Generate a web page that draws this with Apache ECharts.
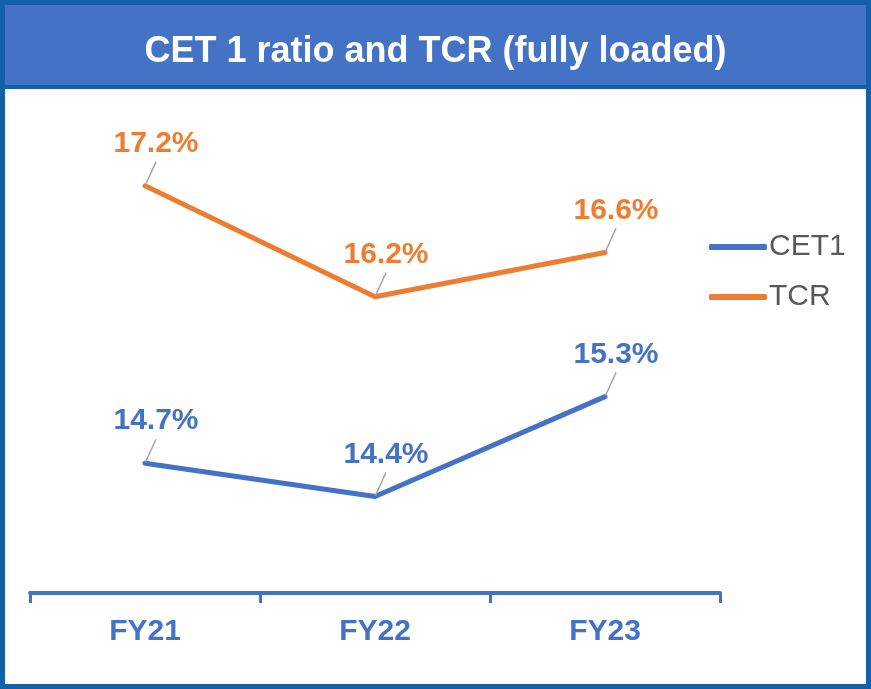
<!DOCTYPE html>
<html>
<head>
<meta charset="utf-8">
<script src="https://cdn.jsdelivr.net/npm/echarts@6/dist/echarts.min.js"></script>
<style>html,body{margin:0;padding:0;background:#fff;}#c{width:871px;height:689px;}</style>
</head>
<body>
<div id="c"></div>
<script>
const categories = ['FY21', 'FY22', 'FY23'];
const cet1 = [14.7, 14.4, 15.3];
const tcr = [17.2, 16.2, 16.6];
const seriesNames = ['CET1', 'TCR'];
const titleText = 'CET 1 ratio and TCR (fully loaded)';

const BLUE = '#4472C4', ORANGE = '#ED7D31', DARK = '#1460A8';
const FONT = 'Arial, "Liberation Sans", sans-serif';

function mkSeries(name, data, color) {
  return {
    name: name, type: 'line', data: data,
    symbol: 'circle', symbolSize: 2, showSymbol: true,
    itemStyle: { color: color },
    lineStyle: { color: color, width: 5, cap: 'round', join: 'round' },
    label: {
      show: true, position: 'top', distance: 5,
      formatter: p => p.value.toFixed(1) + '%',
      color: color, fontSize: 30, fontWeight: 'bold', fontFamily: FONT,
      lineHeight: 30, padding: [0, 0, 3, 0]
    },
    labelLayout: { dx: 11, dy: -18 },
    labelLine: { show: true, lineStyle: { color: '#A5A5A5', width: 1.5 } },
    emphasis: { disabled: true },
    animation: false
  };
}

const chart = echarts.init(document.getElementById('c'));
chart.setOption({
  animation: false,
  title: {
    text: titleText, left: 'center', top: 28,
    textStyle: { color: '#fff', fontSize: 36, fontWeight: 'bold', fontFamily: FONT, lineHeight: 38 }
  },
  graphic: [
    { type: 'rect', z: -10, shape: { x: 0, y: 0, width: 871, height: 88 }, style: { fill: BLUE } },
    { type: 'rect', z: 100, shape: { x: 0, y: 85, width: 871, height: 4 }, style: { fill: DARK } },
    { type: 'rect', z: 100, shape: { x: 0, y: 0, width: 871, height: 689 }, style: { fill: 'none', stroke: DARK, lineWidth: 10 } }
  ],
  legend: {
    orient: 'vertical', left: 704, top: 227, itemGap: 20,
    itemWidth: 58, itemHeight: 6, icon: 'roundRect',
    data: seriesNames,
    textStyle: { color: '#595959', fontSize: 30, fontFamily: FONT, lineHeight: 30, padding: [0, 0, 0, -3] }
  },
  grid: { left: 30, right: 151, top: 100, bottom: 96 },
  xAxis: {
    type: 'category', data: categories, boundaryGap: true,
    axisLine: { lineStyle: { color: BLUE, width: 4 } },
    axisTick: { show: true, length: 10, lineStyle: { color: BLUE, width: 3 } },
    axisLabel: { color: BLUE, fontSize: 30, fontWeight: 'bold', fontFamily: FONT, margin: 24 },
    splitLine: { show: false }
  },
  yAxis: {
    type: 'value', min: 13.53, max: 17.974, show: false, splitLine: { show: false }
  },
  series: [
    mkSeries(seriesNames[0], cet1, BLUE),
    mkSeries(seriesNames[1], tcr, ORANGE)
  ]
});
</script>
</body>
</html>
